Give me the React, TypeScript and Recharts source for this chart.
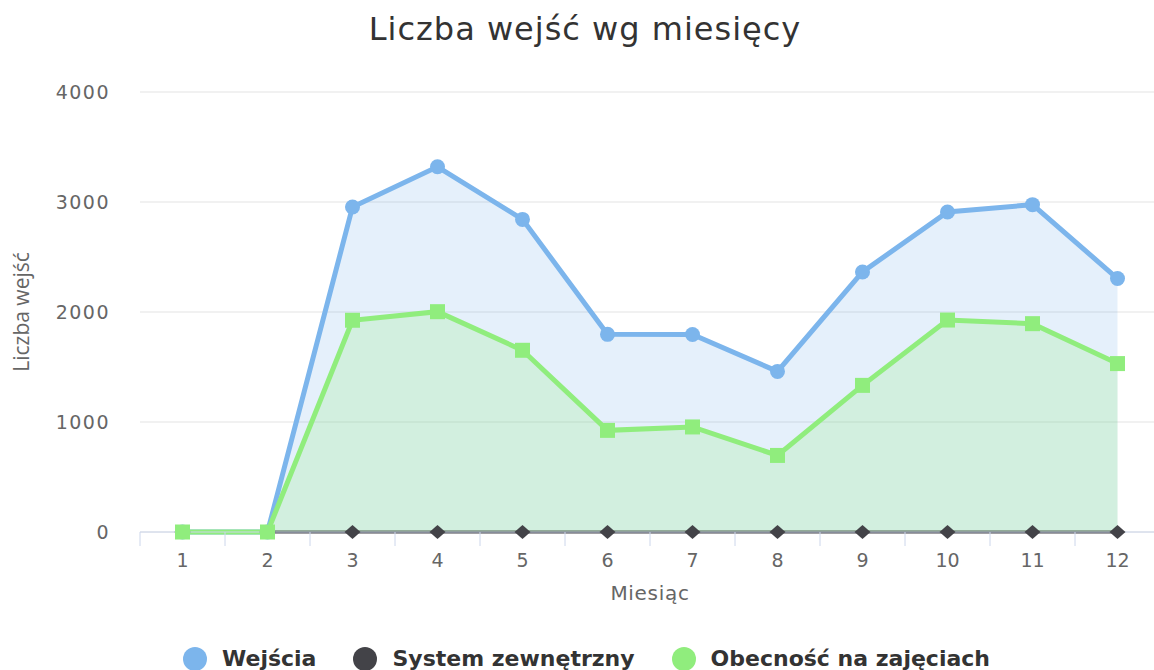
import { ComposedChart, Area, XAxis, YAxis, CartesianGrid } from "recharts";

const months = [1, 2, 3, 4, 5, 6, 7, 8, 9, 10, 11, 12];
const wejscia = [0, 0, 2955, 3320, 2842, 1797, 1795, 1460, 2364, 2909, 2976, 2304];
const systemZewnetrzny = [0, 0, 0, 0, 0, 0, 0, 0, 0, 0, 0, 0];
const obecnosc = [0, 0, 1925, 2003, 1652, 924, 955, 696, 1333, 1927, 1894, 1531];
const yTicks = [0, 1000, 2000, 3000, 4000];
// label ticks on the months, tick marks between them
const xTicks = [0.5, ...months.flatMap((m) => [m, m + 0.5])];

const series = [
  { key: "wejscia", name: "Wejścia", color: "#7cb5ec" },
  { key: "system", name: "System zewnętrzny", color: "#434348" },
  { key: "obecnosc", name: "Obecność na zajęciach", color: "#90ed7d" },
];

const data = months.map((m, i) => ({
  month: m,
  wejscia: wejscia[i],
  system: systemZewnetrzny[i],
  obecnosc: obecnosc[i],
}));

const FONT = '"DejaVu Sans", Verdana, sans-serif';

function MonthTick(props: any) {
  const { x, y, payload } = props;
  const v = payload.value;
  if (Number.isInteger(v)) {
    return (
      <text x={x} y={y + 35} textAnchor="middle" fill="#666" fontSize={19} fontFamily={FONT}>
        {v}
      </text>
    );
  }
  return <line x1={x} x2={x} y1={y} y2={y + 14} stroke="#ccd6eb" strokeWidth={1} />;
}

function CircleDot(props: any) {
  const { cx, cy, index } = props;
  return <circle key={`c-${index}`} cx={cx} cy={cy} r={7.5} fill="#7cb5ec" />;
}

function SquareDot(props: any) {
  const { cx, cy, index } = props;
  return <rect key={`s-${index}`} x={cx - 7.5} y={cy - 7.5} width={15} height={15} fill="#90ed7d" />;
}

function DiamondDot(props: any) {
  const { cx, cy, index } = props;
  return (
    <polygon
      key={`d-${index}`}
      points={`${cx},${cy - 7} ${cx + 8},${cy} ${cx},${cy + 7} ${cx - 8},${cy}`}
      fill="#434348"
    />
  );
}

export default function App() {
  return (
    <div
      style={{
        position: "absolute",
        left: 0,
        top: 0,
        width: 1154,
        height: 670,
        overflow: "hidden",
        background: "#fff",
      }}
    >
      <div
        style={{
          position: "absolute",
          top: 10,
          left: 8,
          width: 1154,
          textAlign: "center",
          fontFamily: FONT,
          fontSize: 32,
          letterSpacing: 1,
          color: "#333",
        }}
      >
        Liczba wejść wg miesięcy
      </div>

      <ComposedChart
        width={1175}
        height={670}
        data={data}
        margin={{ top: 92, right: 15, left: 0, bottom: 0 }}
      >
        <CartesianGrid vertical={false} stroke="#e3e3e3" />
        <XAxis
          dataKey="month"
          type="number"
          domain={[0.5, 12.5]}
          ticks={xTicks}
          interval={0}
          height={138}
          tickLine={false}
          tickSize={0}
          tickMargin={0}
          axisLine={{ stroke: "#ccd6eb" }}
          tick={<MonthTick />}
          label={{
            value: "Miesiąc",
            position: "insideTop",
            offset: 54,
            style: { fill: "#666", fontSize: 20, fontFamily: FONT, letterSpacing: 0.7 },
          }}
        />
        <YAxis
          width={140}
          domain={[0, 4000]}
          ticks={yTicks}
          axisLine={false}
          tickLine={false}
          tickSize={0}
          tickMargin={30}
          tick={{ fill: "#666", fontSize: 19, fontFamily: FONT, letterSpacing: 1.5 }}
          label={{
            value: "Liczba wejść",
            angle: -90,
            position: "insideLeft",
            offset: 22,
            style: { textAnchor: "middle", fill: "#666", fontSize: 21, fontFamily: '"Open Sans", sans-serif' },
          }}
        />
        <Area
          type="linear"
          dataKey="wejscia"
          name="Wejścia"
          stroke="#7cb5ec"
          strokeWidth={5}
          fill="#7cb5ec"
          fillOpacity={0.2}
          dot={CircleDot}
          activeDot={false}
          isAnimationActive={false}
        />
        {/* drawn as an unfilled area so it stays between the other two series */}
        <Area
          type="linear"
          dataKey="system"
          name="System zewnętrzny"
          stroke="#434348"
          strokeWidth={3}
          fill="none"
          fillOpacity={0}
          dot={DiamondDot}
          activeDot={false}
          isAnimationActive={false}
        />
        <Area
          type="linear"
          dataKey="obecnosc"
          name="Obecność na zajęciach"
          stroke="#90ed7d"
          strokeWidth={5}
          fill="#90ed7d"
          fillOpacity={0.22}
          dot={SquareDot}
          activeDot={false}
          isAnimationActive={false}
        />
      </ComposedChart>

      <div
        style={{
          position: "absolute",
          top: 646,
          left: 183,
          display: "flex",
          alignItems: "center",
          gap: 37,
          fontFamily: FONT,
          fontWeight: "bold",
          fontSize: 22,
          color: "#333",
          whiteSpace: "nowrap",
        }}
      >
        {series.map((s) => (
          <div key={s.key} style={{ display: "flex", alignItems: "center" }}>
            <span
              style={{
                display: "inline-block",
                width: 24,
                height: 24,
                borderRadius: 12,
                background: s.color,
                marginRight: 15,
              }}
            />
            {s.name}
          </div>
        ))}
      </div>
    </div>
  );
}
